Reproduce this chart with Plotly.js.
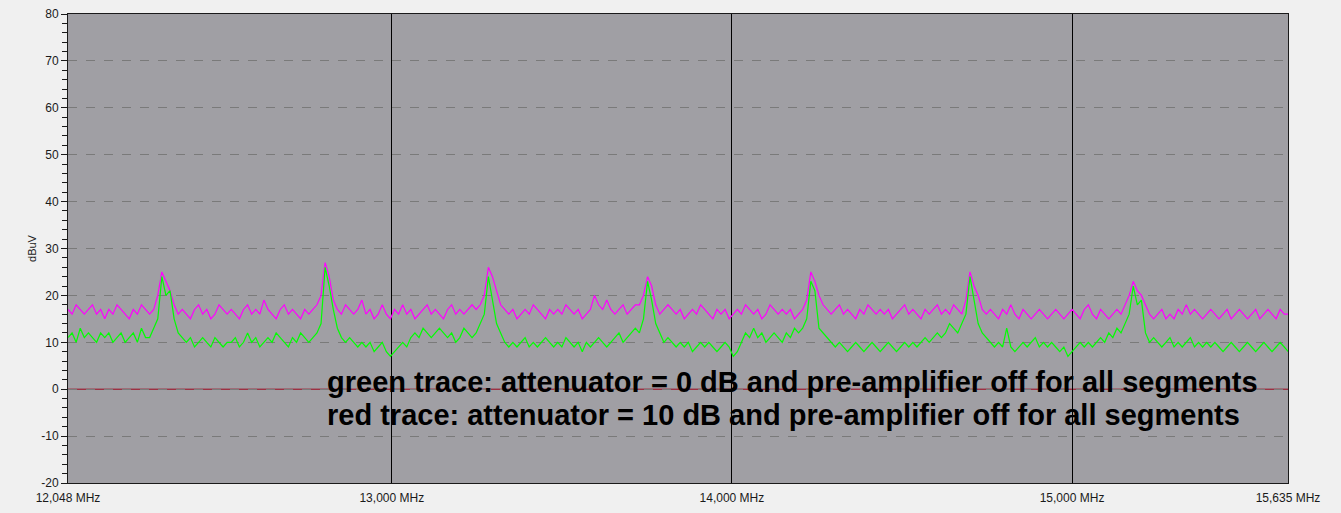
<!DOCTYPE html>
<html>
<head>
<meta charset="utf-8">
<script src="https://cdn.plot.ly/plotly-3.0.1.min.js"></script>
<style>html,body{margin:0;padding:0;background:#f0f0f0;}#chart{width:1341px;height:513px;}</style>
</head>
<body>
<div id="chart"></div>
<script>
// Frequency sweep: start and step of the analyser grid (MHz)
const freqStart = 12048;
const freqStep = 12;

// red (magenta) trace: attenuator = 10 dB (dBuV)
const redTrace = [
17,16,18,17,16,17,18,16,17,15,17,16,18,17,16,15,17,16,18,17,
16,17,20,25,23,21,18,16,17,16,15,17,18,16,17,15,16,18,17,16,
17,16,15,17,18,16,17,16,19,17,16,15,17,18,16,17,16,15,17,16,
17,18,20,27,24,19,17,16,18,17,16,17,19,16,17,15,16,18,16,15,
17,16,18,16,17,15,16,17,18,16,17,16,15,17,18,16,17,16,17,18,
17,18,20,26,24,21,18,17,16,17,15,16,17,16,18,17,16,15,17,16,
17,16,18,17,16,17,15,16,17,20,18,17,19,17,16,17,18,16,17,18,
18,20,24,22,18,16,17,18,17,16,17,15,16,17,16,18,17,16,15,17,
16,17,15,16,17,16,18,17,16,17,15,16,18,17,16,17,16,17,15,16,
17,19,25,23,20,18,17,16,17,18,16,17,16,15,17,16,18,17,16,17,
16,17,15,16,17,18,16,17,16,15,17,16,17,18,16,17,16,18,17,16,
19,25,22,20,17,16,17,16,15,17,16,18,16,15,17,16,15,16,17,16,
15,16,17,16,15,16,17,16,15,17,18,16,15,17,16,15,16,17,16,18,
20,23,21,20,18,16,15,16,17,15,16,15,17,16,18,16,17,16,15,16,
17,16,15,16,17,15,16,17,16,15,16,17,15,16,17,16,15,17,16,16
];

// green trace: attenuator = 0 dB (dBuV)
const greenTrace = [
11,12,10,13,11,12,11,10,12,11,12,10,11,12,10,11,12,10,13,11,
11,13,15,24,20,21,15,12,11,10,11,9,10,11,10,9,11,10,9,10,
10,11,9,10,12,10,11,9,10,11,10,12,11,10,9,11,10,12,11,10,
11,12,14,26,22,17,13,11,10,11,10,9,10,9,10,8,9,10,8,7,
8,9,10,9,11,12,11,13,12,11,12,13,12,11,12,10,11,13,12,11,
12,14,16,24,19,14,12,10,9,10,9,10,11,9,10,9,10,11,10,9,
10,9,11,10,9,10,8,10,9,10,11,10,9,10,11,12,10,11,12,13,
12,15,23,19,14,12,10,11,10,9,10,9,10,8,9,10,9,10,9,8,
9,10,9,7,8,10,12,11,13,11,12,10,11,12,11,10,12,11,13,12,
13,15,23,21,13,12,11,10,9,10,9,8,9,10,9,8,9,10,9,8,
9,10,9,8,9,10,9,10,9,10,11,10,11,12,11,12,14,13,12,14,
16,24,19,14,12,11,10,9,10,9,13,9,8,9,10,9,10,11,9,10,
9,10,9,8,9,7,8,9,10,9,10,9,10,11,10,12,11,13,12,14,
16,22,18,19,12,10,11,10,9,10,11,9,10,9,10,11,9,10,9,10,
9,10,9,8,9,10,9,8,9,10,9,8,9,10,9,8,9,10,9,8
];

const xTickVals = [12048, 13000, 14000, 15000, 15635];
const xTickText = ['12,048 MHz', '13,000 MHz', '14,000 MHz', '15,000 MHz', '15,635 MHz'];
const yTickVals = [-20, -10, 0, 10, 20, 30, 40, 50, 60, 70, 80];
const yTickText = ['-20', '-10', '0', '10', '20', '30', '40', '50', '60', '70', '80'];
const noteLines = [
  'green trace: attenuator = 0 dB and pre-amplifier off for all segments',
  'red trace: attenuator = 10 dB and pre-amplifier off for all segments'
];
const noteY = [1.6, -5.4];
const referenceLevel = 0;

const freqs = redTrace.map((_, i) => freqStart + i * freqStep);

const traces = [
  {x: freqs, y: redTrace, type: 'scatter', mode: 'lines', line: {color: '#ff00ff', width: 1.2}, hoverinfo: 'skip'},
  {x: freqs, y: greenTrace, type: 'scatter', mode: 'lines', line: {color: '#00ff00', width: 1.2}, hoverinfo: 'skip'}
];

const layout = {
  width: 1341, height: 513,
  margin: {l: 68, r: 53, t: 14, b: 30, pad: 0},
  paper_bgcolor: '#f0f0f0',
  plot_bgcolor: '#a09fa4',
  showlegend: false,
  font: {family: 'Arial, Liberation Sans, sans-serif', size: 12, color: '#1a1a1a'},
  xaxis: {
    range: [12048, 15635],
    tickmode: 'array', tickvals: xTickVals, ticktext: xTickText,
    showgrid: true, gridcolor: '#000000', gridwidth: 1,
    ticks: '', ticklabelstandoff: 4,
    showline: true, linecolor: '#1a1a1a', linewidth: 1, mirror: true,
    zeroline: false, tickfont: {size: 12}
  },
  yaxis: {
    range: [-20, 80], tickmode: 'array', tickvals: yTickVals, ticktext: yTickText,
    showgrid: true, gridcolor: '#7a7a7a', griddash: 'dash', gridwidth: 1,
    ticks: 'outside', ticklen: 6, tickcolor: '#1a1a1a',
    minor: {dtick: 2, tick0: 0, ticks: 'outside', ticklen: 5, tickcolor: '#1a1a1a', showgrid: false},
    showline: true, linecolor: '#1a1a1a', linewidth: 1, mirror: true,
    zeroline: false,
    tickfont: {size: 12},
    title: {text: 'dBuV', font: {size: 11}, standoff: 2}
  },
  shapes: [{
    type: 'line', xref: 'paper', yref: 'y', x0: 0, x1: 1, y0: referenceLevel, y1: referenceLevel,
    line: {color: '#9a0018', width: 1}, layer: 'below'
  }],
  annotations: noteLines.map((t, i) => ({
    text: t, xref: 'paper', yref: 'y', x: 0.2107, y: noteY[i],
    xanchor: 'left', yanchor: 'middle', showarrow: false,
    font: {family: 'Arial, Liberation Sans, sans-serif', size: 29, color: '#000000', weight: 'bold'}
  }))
};

Plotly.newPlot('chart', traces, layout, {displayModeBar: false, staticPlot: true});
</script>
</body>
</html>
